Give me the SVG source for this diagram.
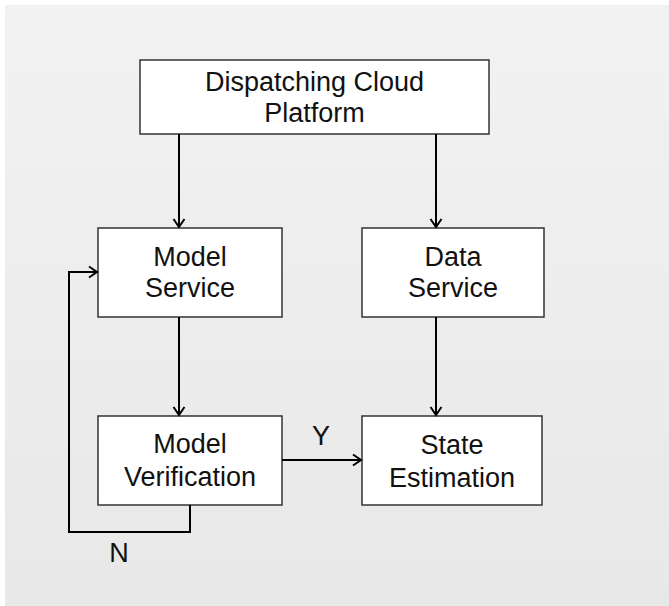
<svg xmlns="http://www.w3.org/2000/svg" width="669" height="606" viewBox="0 0 669 606">
<defs>
<linearGradient id="bg" x1="0" y1="0" x2="0" y2="1">
<stop offset="0" stop-color="#f2f2f2"/>
<stop offset="1" stop-color="#e8e8e8"/>
</linearGradient>
<marker id="arr" markerUnits="userSpaceOnUse" markerWidth="14" markerHeight="14" viewBox="0 0 14 14" refX="12" refY="7" orient="auto">
<path d="M4,1.5 L12,7 L4,12.5" fill="none" stroke="#000" stroke-width="2"/>
</marker>
</defs>
<style>
.box{fill:#fff;stroke:#333;stroke-width:1.5}
.t{font-family:"Liberation Sans",Arial,sans-serif;font-size:27px;fill:#111;text-anchor:middle}
.c{fill:none;stroke:#000;stroke-width:2}
</style>
<rect width="669" height="606" fill="#fff"/>
<rect x="5" y="5" width="664" height="601" fill="url(#bg)"/>
<g id="nodes">
<g id="platform">
<rect class="box" x="140" y="60" width="349" height="74"/>
<text class="t" x="314.5" y="91">Dispatching Cloud</text>
<text class="t" x="314.5" y="122">Platform</text>
</g>
<g id="model-service">
<rect class="box" x="98" y="228" width="184" height="89"/>
<text class="t" x="190" y="266">Model</text>
<text class="t" x="190" y="297">Service</text>
</g>
<g id="data-service">
<rect class="box" x="362" y="228" width="182" height="89"/>
<text class="t" x="453" y="266">Data</text>
<text class="t" x="453" y="297">Service</text>
</g>
<g id="model-verification">
<rect class="box" x="98" y="416" width="184" height="89"/>
<text class="t" x="190" y="453">Model</text>
<text class="t" x="190" y="486">Verification</text>
</g>
<g id="state-estimation">
<rect class="box" x="362" y="416" width="180" height="89"/>
<text class="t" x="452" y="454">State</text>
<text class="t" x="452" y="487">Estimation</text>
</g>
</g>
<g id="connectors">
<line class="c" x1="179" y1="134" x2="179" y2="227" marker-end="url(#arr)"/>
<line class="c" x1="436" y1="134" x2="436" y2="227" marker-end="url(#arr)"/>
<line class="c" x1="179" y1="317" x2="179" y2="415" marker-end="url(#arr)"/>
<line class="c" x1="436" y1="317" x2="436" y2="415" marker-end="url(#arr)"/>
<line class="c" x1="282" y1="460" x2="361" y2="460" marker-end="url(#arr)"/>
<path class="c" d="M190,505 V532 H69 V272 H97" marker-end="url(#arr)"/>
<text class="t" x="321" y="445">Y</text>
<text class="t" x="119" y="562">N</text>
</g>
</svg>
